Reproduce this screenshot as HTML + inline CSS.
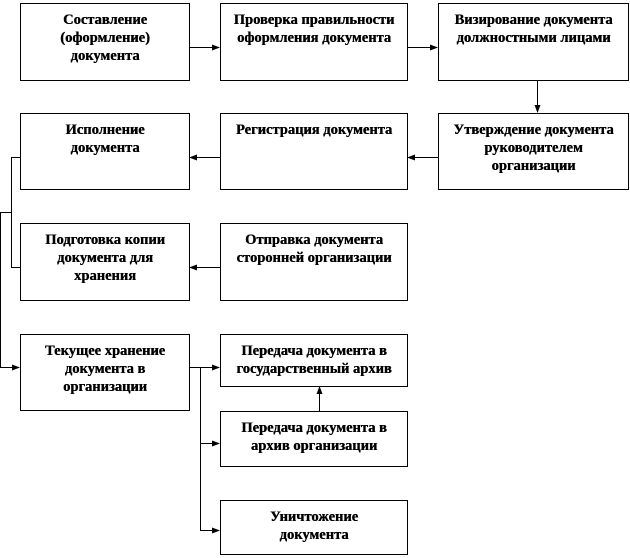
<!DOCTYPE html>
<html><head><meta charset="utf-8"><style>
html,body{margin:0;padding:0;background:#fff;}
body{width:630px;height:558px;position:relative;overflow:hidden;font-family:"Liberation Serif",serif;}
.b{position:absolute;box-sizing:border-box;border:1px solid #000;background:#fff;text-align:center;font-weight:bold;font-size:14.5px;line-height:18px;padding-top:7px;color:#000;text-shadow:0.4px 0 0 #000;white-space:nowrap;}
svg{position:absolute;left:0;top:0;}
</style></head><body>
<svg width="630" height="558">
<defs><marker id="a" markerWidth="8" markerHeight="8" refX="7" refY="4" orient="auto" markerUnits="userSpaceOnUse"><path d="M0,1 L8,4 L0,7 z" fill="#000"/></marker></defs>
<g stroke="#000" stroke-width="1" fill="none">
<line x1="189" y1="47.5" x2="219" y2="47.5" marker-end="url(#a)"/>
<line x1="407" y1="47.5" x2="437" y2="47.5" marker-end="url(#a)"/>
<line x1="537.5" y1="80" x2="537.5" y2="112" marker-end="url(#a)"/>
<line x1="438" y1="157.5" x2="408" y2="157.5" marker-end="url(#a)"/>
<line x1="220" y1="157.5" x2="190" y2="157.5" marker-end="url(#a)"/>
<line x1="220" y1="267.5" x2="190" y2="267.5" marker-end="url(#a)"/>
<polyline points="20,157.5 11.5,157.5 11.5,267.5 20,267.5"/>
<polyline points="11.5,212.5 0.5,212.5 0.5,367.5 19,367.5" marker-end="url(#a)"/>
<line x1="189" y1="367.5" x2="219" y2="367.5" marker-end="url(#a)"/>
<polyline points="200.5,367.5 200.5,530.5 219,530.5" marker-end="url(#a)"/>
<line x1="200.5" y1="443.5" x2="219" y2="443.5" marker-end="url(#a)"/>
<line x1="319.5" y1="411" x2="319.5" y2="387" marker-end="url(#a)"/>
</g></svg>
<div class="b" style="left:20px;top:3px;width:170px;height:78px;">Составление<br>(оформление)<br>документа</div>
<div class="b" style="left:220px;top:3px;width:188px;height:78px;">Проверка правильности<br>оформления документа</div>
<div class="b" style="left:438px;top:3px;width:191px;height:78px;">Визирование документа<br>должностными лицами</div>
<div class="b" style="left:20px;top:113px;width:170px;height:77px;">Исполнение<br>документа</div>
<div class="b" style="left:220px;top:113px;width:188px;height:77px;">Регистрация документа</div>
<div class="b" style="left:438px;top:113px;width:191px;height:77px;">Утверждение документа<br>руководителем<br>организации</div>
<div class="b" style="left:20px;top:223px;width:170px;height:78px;">Подготовка копии<br>документа для<br>хранения</div>
<div class="b" style="left:220px;top:223px;width:188px;height:78px;">Отправка документа<br>сторонней организации</div>
<div class="b" style="left:20px;top:334px;width:170px;height:77px;">Текущее хранение<br>документа в<br>организации</div>
<div class="b" style="left:220px;top:334px;width:188px;height:53px;">Передача документа в<br>государственный архив</div>
<div class="b" style="left:220px;top:411px;width:188px;height:56px;">Передача документа в<br>архив организации</div>
<div class="b" style="left:220px;top:500px;width:188px;height:55px;">Уничтожение<br>документа</div>
</body></html>
